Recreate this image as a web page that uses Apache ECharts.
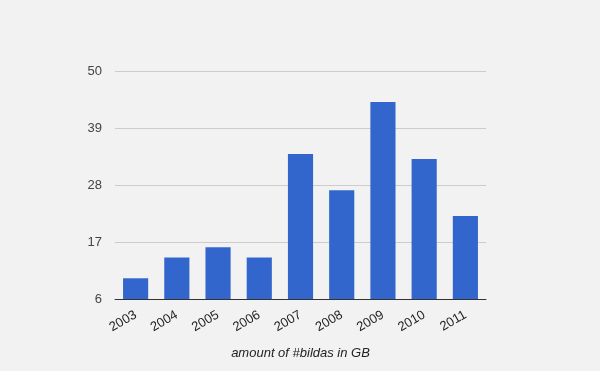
<!DOCTYPE html>
<html>
<head>
<meta charset="utf-8">
<script src="https://cdn.jsdelivr.net/npm/echarts@6/dist/echarts.min.js"></script>
<style>
html,body{margin:0;padding:0;background:#f2f2f2;}
#chart{width:600px;height:371px;}
</style>
</head>
<body>
<div id="chart"></div>
<script>
var categories = ['2003','2004','2005','2006','2007','2008','2009','2010','2011'];
var values = [10, 14, 16, 14, 34, 27, 44, 33, 22];
var yTicks = [6, 17, 28, 39, 50];
var axisTitle = 'amount of #bildas in GB';

var chart = echarts.init(document.getElementById('chart'));
chart.setOption({
  backgroundColor: '#f2f2f2',
  animation: false,
  textStyle: { fontFamily: 'Liberation Sans, Arial, sans-serif' },
  grid: { left: 115, right: 114, top: 71, bottom: 72, containLabel: false },
  xAxis: {
    type: 'category',
    data: categories,
    name: axisTitle,
    nameLocation: 'middle',
    nameGap: 48,
    nameTextStyle: { fontStyle: 'italic', fontSize: 13, color: '#222' },
    axisLine: { lineStyle: { color: '#333', width: 1 } },
    axisTick: { show: false },
    axisLabel: { rotate: 30, fontSize: 13, color: '#222', margin: 15, interval: 0 }
  },
  yAxis: {
    type: 'value',
    min: 6,
    max: 50,
    interval: 11,
    axisLine: { show: false },
    axisTick: { show: false, customValues: yTicks },
    axisLabel: { fontSize: 13, color: '#444', margin: 13, customValues: yTicks },
    splitLine: { lineStyle: { color: '#cccccc', width: 1 } }
  },
  series: [{
    type: 'bar',
    data: values,
    barCategoryGap: '39%',
    itemStyle: { color: '#3366cc' }
  }]
});
</script>
</body>
</html>
